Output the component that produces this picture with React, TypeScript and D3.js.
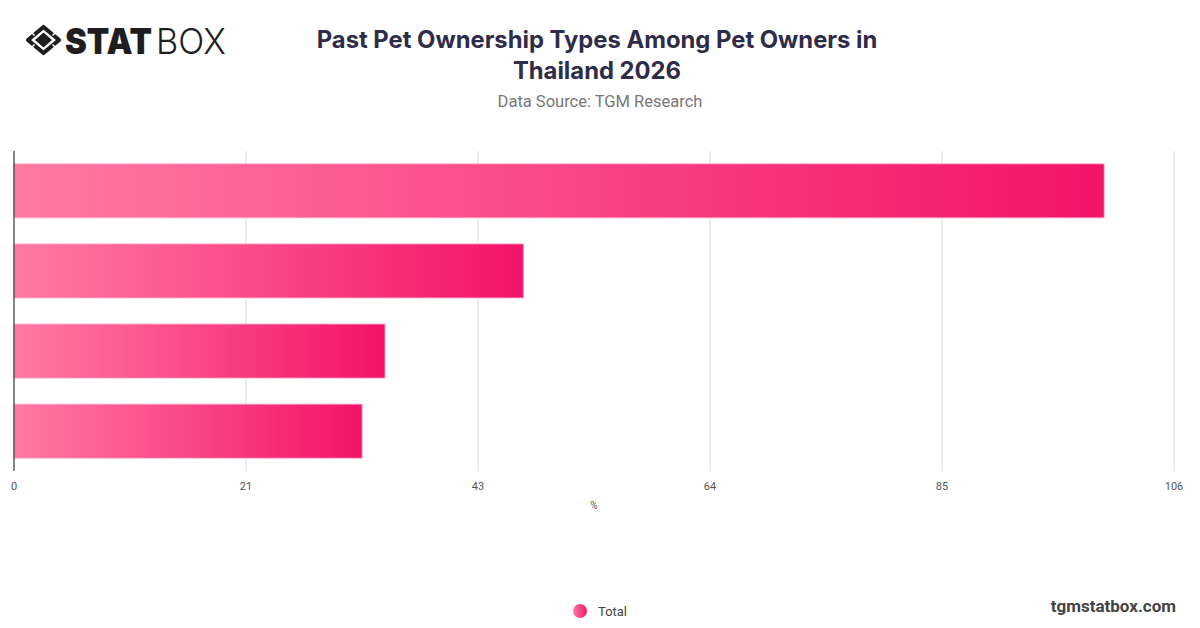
import React, { useEffect, useRef } from 'react';
import * as d3 from 'd3';

// values (% of pet owners), top to bottom
const categories = ['Row 1', 'Row 2', 'Row 3', 'Row 4'];
const totals = [99.9, 46.7, 34.0, 31.9];
const xMax = 106.3;
const tickValues = [0, 21.26, 42.52, 63.78, 85.04, 106.3];

const titleLines = ['Past Pet Ownership Types Among Pet Owners in', 'Thailand 2026'];
const subtitle = 'Data Source: TGM Research';
const seriesName = 'Total';

const W = 1200;
const H = 628;

export default function App() {
  const ref = useRef<SVGSVGElement>(null);

  useEffect(() => {
    if (!ref.current) return;
    const svg = d3.select(ref.current);
    svg.selectAll('*').remove();

    const margin = { top: 151, left: 14, right: 26, bottom: 157 };
    const innerW = W - margin.left - margin.right;
    const innerH = H - margin.top - margin.bottom;

    const defs = svg.append('defs');
    const grad = defs.append('linearGradient')
      .attr('id', 'barGrad')
      .attr('x1', '0%').attr('x2', '100%')
      .attr('y1', '0%').attr('y2', '0%');
    grad.append('stop').attr('offset', '0%').attr('stop-color', '#ff7aa3');
    grad.append('stop').attr('offset', '100%').attr('stop-color', '#f3136a');

    const lgGrad = defs.append('linearGradient')
      .attr('id', 'legGrad')
      .attr('x1', '0%').attr('x2', '100%');
    lgGrad.append('stop').attr('offset', '0%').attr('stop-color', '#ff7aa3');
    lgGrad.append('stop').attr('offset', '100%').attr('stop-color', '#f01868');

    // Logo
    const logo = svg.append('g');
    const cx = 43.5, cy = 40;
    logo.append('path')
      .attr('d', `M${cx - 15.5},${cy} L${cx},${cy - 13} L${cx + 15.5},${cy} L${cx},${cy + 13} Z`)
      .attr('fill', 'none')
      .attr('stroke', '#1e1e1e')
      .attr('stroke-width', 4.2)
      .attr('stroke-linejoin', 'round');
    logo.append('path')
      .attr('d', `M${cx - 8.5},${cy} L${cx},${cy - 7.5} L${cx + 8.5},${cy} L${cx},${cy + 7.5} Z`)
      .attr('fill', '#1e1e1e');
    // white slits on the ring
    [[-1, -1], [1, -1], [1, 1], [-1, 1]].forEach(([sx, sy]) => {
      logo.append('line')
        .attr('x1', cx + sx * 9).attr('y1', cy + sy * 4.5)
        .attr('x2', cx + sx * 13).attr('y2', cy + sy * 8.5)
        .attr('stroke', '#fff')
        .attr('stroke-width', 1.6);
    });
    logo.append('text')
      .attr('x', 65).attr('y', 54)
      .attr('font-family', 'Inter, "DejaVu Sans", sans-serif')
      .attr('font-weight', 900)
      .attr('font-size', 36)
      .attr('textLength', 87)
      .attr('lengthAdjust', 'spacingAndGlyphs')
      .attr('fill', '#1e1e1e')
      .text('STAT');
    logo.append('text')
      .attr('x', 156).attr('y', 54)
      .attr('font-family', 'Inter, "DejaVu Sans", sans-serif')
      .attr('font-weight', 300)
      .attr('font-size', 36)
      .attr('textLength', 70)
      .attr('lengthAdjust', 'spacingAndGlyphs')
      .attr('fill', '#1e1e1e')
      .text('BOX');

    // Title + subtitle
    svg.selectAll('.title')
      .data(titleLines)
      .enter()
      .append('text')
      .attr('class', 'title')
      .attr('x', 597)
      .attr('y', (d, i) => 48 + i * 31)
      .attr('text-anchor', 'middle')
      .attr('font-family', 'Inter, sans-serif')
      .attr('font-weight', 700)
      .attr('font-size', 23.8)
      .attr('fill', '#2e2c48')
      .text(d => d);

    svg.append('text')
      .attr('x', 600).attr('y', 107)
      .attr('text-anchor', 'middle')
      .attr('font-family', 'Roboto, sans-serif')
      .attr('font-size', 16.5)
      .attr('fill', '#777')
      .text(subtitle);

    const g = svg.append('g').attr('transform', `translate(${margin.left},${margin.top})`);

    const x = d3.scaleLinear().domain([0, xMax]).range([0, innerW]);
    const y = d3.scaleBand().domain(categories).range([0, innerH]).paddingInner(0.325).paddingOuter(0.16);

    // gridlines
    g.selectAll('.grid')
      .data(tickValues.slice(1))
      .enter()
      .append('line')
      .attr('x1', d => x(d)).attr('x2', d => x(d))
      .attr('y1', 0).attr('y2', innerH)
      .attr('stroke', '#dedede')
      .attr('stroke-width', 1);

    // bars
    g.selectAll('.bar')
      .data(totals)
      .enter()
      .append('rect')
      .attr('x', 0)
      .attr('y', (d, i) => y(categories[i]) ?? 0)
      .attr('width', d => x(d))
      .attr('height', y.bandwidth())
      .attr('fill', 'url(#barGrad)')
      .attr('stroke', '#ffb3cb')
      .attr('stroke-width', 0.8);

    // left axis line
    g.append('line')
      .attr('x1', 0).attr('x2', 0)
      .attr('y1', 0).attr('y2', innerH)
      .attr('stroke', '#333')
      .attr('stroke-width', 1.2);

    // x tick labels
    g.selectAll('.tick-label')
      .data(tickValues)
      .enter()
      .append('text')
      .attr('x', d => x(d))
      .attr('y', innerH + 19)
      .attr('text-anchor', 'middle')
      .attr('font-family', 'Roboto, sans-serif')
      .attr('font-size', 11)
      .attr('fill', '#555')
      .text(d => d3.format('.0f')(d));

    g.append('text')
      .attr('x', x(xMax / 2))
      .attr('y', innerH + 38)
      .attr('text-anchor', 'middle')
      .attr('font-family', 'Roboto, sans-serif')
      .attr('font-size', 10)
      .attr('fill', '#555')
      .text('%');

    // legend
    svg.append('circle')
      .attr('cx', 580).attr('cy', 611).attr('r', 7)
      .attr('fill', 'url(#legGrad)');
    svg.append('text')
      .attr('x', 598).attr('y', 616)
      .attr('font-family', 'Roboto, sans-serif')
      .attr('font-size', 13)
      .attr('fill', '#444')
      .text(seriesName);

    svg.append('text')
      .attr('x', 1176).attr('y', 612)
      .attr('text-anchor', 'end')
      .attr('font-family', 'Roboto, sans-serif')
      .attr('font-weight', 700)
      .attr('font-size', 17)
      .attr('fill', '#444')
      .text('tgmstatbox.com');
  }, []);

  return (
    <svg
      ref={ref}
      width={W}
      height={H}
      style={{ position: 'absolute', left: 0, top: 0, background: '#fff' }}
    />
  );
}
